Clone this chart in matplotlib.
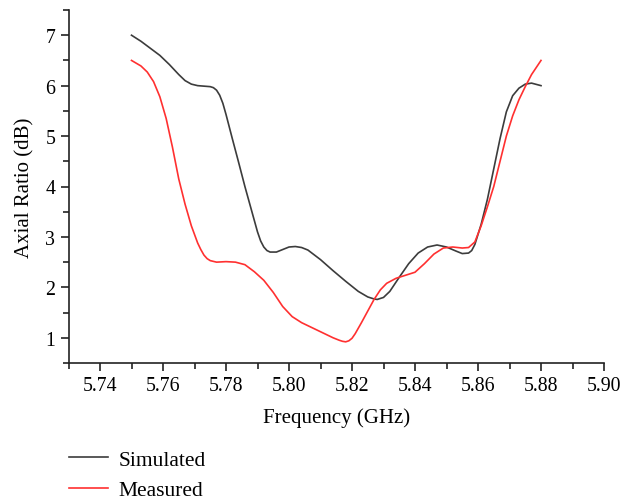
import numpy as np
import matplotlib
matplotlib.use("Agg")
import matplotlib.pyplot as plt
from matplotlib.ticker import MultipleLocator

plt.rcParams['font.family'] = ['Liberation Serif', 'DejaVu Serif']

# simulated axial ratio (dB) vs frequency (GHz)
sim_freq = [5.750, 5.753, 5.756, 5.759, 5.762, 5.765, 5.767, 5.769, 5.771, 5.773,
            5.775, 5.776, 5.777, 5.778, 5.779, 5.780, 5.782, 5.784, 5.786, 5.788,
            5.790, 5.791, 5.792, 5.793, 5.794, 5.796, 5.798, 5.800, 5.802, 5.804,
            5.806, 5.810, 5.814, 5.818, 5.822, 5.825, 5.827, 5.828, 5.830, 5.832,
            5.835, 5.838, 5.841, 5.844, 5.847, 5.850, 5.853, 5.855, 5.857, 5.858,
            5.859, 5.861, 5.863, 5.865, 5.867, 5.869, 5.871, 5.873, 5.875, 5.877,
            5.880]
sim_ar = [7.00, 6.88, 6.74, 6.60, 6.42, 6.22, 6.10, 6.03, 6.00, 5.99,
          5.98, 5.96, 5.91, 5.81, 5.65, 5.43, 4.95, 4.48, 4.00, 3.55,
          3.10, 2.92, 2.80, 2.73, 2.70, 2.70, 2.75, 2.80, 2.81, 2.79,
          2.74, 2.55, 2.33, 2.12, 1.92, 1.81, 1.77, 1.76, 1.80, 1.92,
          2.20, 2.47, 2.68, 2.80, 2.84, 2.80, 2.72, 2.67, 2.68, 2.73,
          2.85, 3.25, 3.75, 4.35, 4.95, 5.48, 5.80, 5.95, 6.03, 6.05,
          6.00]

# measured axial ratio
meas_freq = [5.750, 5.753, 5.755, 5.757, 5.759, 5.761, 5.763, 5.765, 5.767, 5.769,
             5.771, 5.772, 5.773, 5.774, 5.775, 5.777, 5.780, 5.783, 5.786, 5.789,
             5.792, 5.795, 5.798, 5.801, 5.804, 5.808, 5.812, 5.814, 5.816, 5.817,
             5.818, 5.819, 5.820, 5.821, 5.823, 5.825, 5.827, 5.829, 5.831, 5.834,
             5.837, 5.840, 5.843, 5.846, 5.849, 5.852, 5.855, 5.857, 5.859, 5.861,
             5.863, 5.865, 5.867, 5.869, 5.871, 5.873, 5.875, 5.877, 5.880]
meas_ar = [6.50, 6.39, 6.27, 6.08, 5.78, 5.35, 4.78, 4.15, 3.65, 3.22,
           2.88, 2.75, 2.64, 2.57, 2.53, 2.50, 2.51, 2.50, 2.45, 2.31,
           2.14, 1.90, 1.62, 1.42, 1.30, 1.18, 1.06, 1.00, 0.95, 0.93,
           0.92, 0.94, 0.99, 1.08, 1.30, 1.53, 1.76, 1.95, 2.08, 2.18,
           2.24, 2.30, 2.47, 2.66, 2.78, 2.80, 2.78, 2.79, 2.90, 3.22,
           3.60, 4.00, 4.50, 5.00, 5.40, 5.72, 5.98, 6.22, 6.50]

x_ticks = [5.74, 5.76, 5.78, 5.80, 5.82, 5.84, 5.86, 5.88, 5.90]
y_ticks = [1, 2, 3, 4, 5, 6, 7]

fig = plt.figure(figsize=(6.23, 5.02), dpi=100)
ax = fig.add_axes([68.5 / 623, 1 - 364 / 502, (604 - 68.5) / 623, (364 - 11) / 502])

ax.plot(sim_freq, sim_ar, color="#3c3c3c", lw=1.2, label="Simulated",
        solid_joinstyle="round")
ax.plot(meas_freq, meas_ar, color="#ff3030", lw=1.2, label="Measured",
        solid_joinstyle="round")

ax.set_xlim(5.73, 5.90)
ax.set_ylim(0.5, 7.5)
ax.set_xticks(x_ticks)
ax.set_xticklabels(["%.2f" % v for v in x_ticks])
ax.set_yticks(y_ticks)
ax.xaxis.set_minor_locator(MultipleLocator(0.01))
ax.yaxis.set_minor_locator(MultipleLocator(0.5))
ax.tick_params(which="major", direction="out", length=6, width=1.2, labelsize=14.3, color="#222222")
ax.tick_params(which="minor", direction="out", length=4, width=1.2, color="#222222")
ax.spines["top"].set_visible(False)
ax.spines["right"].set_visible(False)
for s in ("left", "bottom"):
    ax.spines[s].set_linewidth(1.2)
    ax.spines[s].set_color("#222222")

ax.set_xlabel("Frequency (GHz)", fontsize=15, labelpad=9)
ax.set_ylabel("Axial Ratio (dB)", fontsize=15, labelpad=8)

fig.legend(loc="center left", bbox_to_anchor=(69 / 623, 1 - 476 / 502),
           bbox_transform=fig.transFigure, frameon=False, fontsize=15.5,
           handlelength=1.8, handletextpad=0.5, labelspacing=0.5,
           borderpad=0, borderaxespad=0)

fig.savefig("out.png", dpi=100)
